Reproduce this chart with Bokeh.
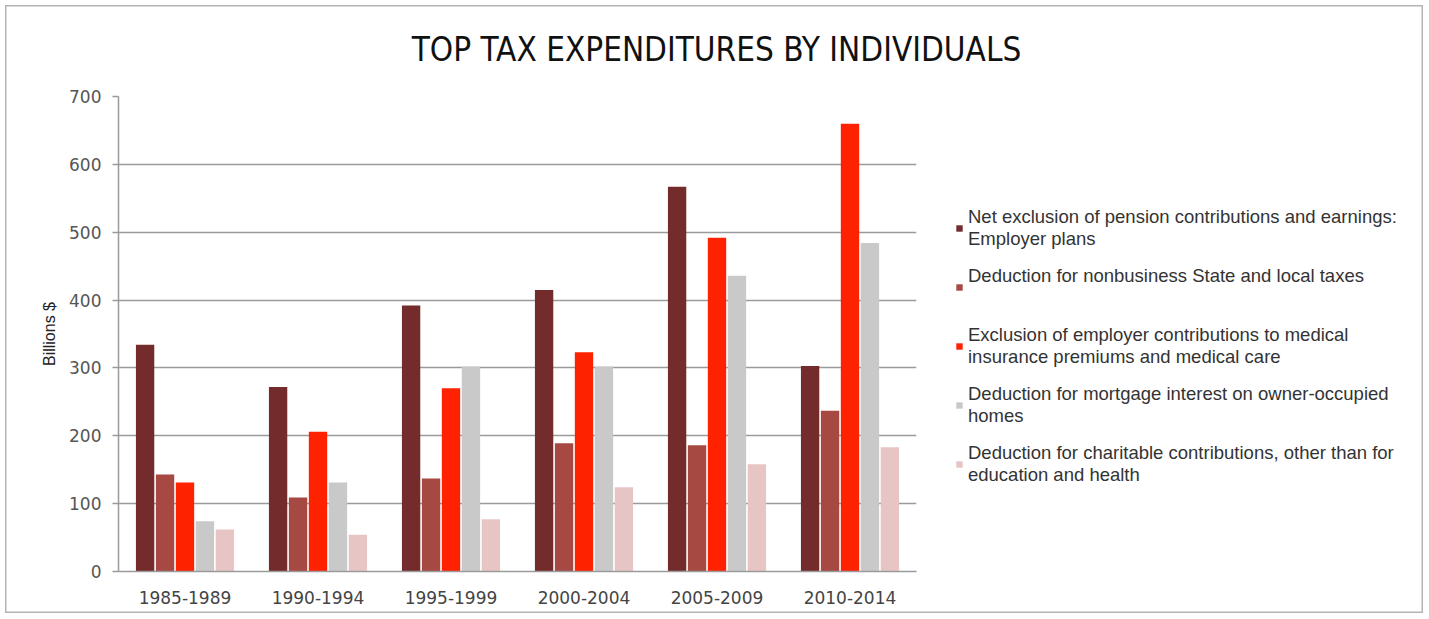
from bokeh.plotting import figure
from bokeh.models import ColumnDataSource, FactorRange, Range1d, Legend, LegendItem
from bokeh.layouts import column, row
from bokeh.core.properties import value
from bokeh.transform import dodge
from bokeh.embed import file_html
from bokeh.resources import INLINE

title_text = "TOP TAX EXPENDITURES BY INDIVIDUALS"
categories = ["1985-1989", "1990-1994", "1995-1999", "2000-2004", "2005-2009", "2010-2014"]
pension = [334, 272, 392, 415, 567, 303]
state_local = [143, 109, 137, 189, 186, 237]
medical = [131, 206, 270, 323, 492, 660]
mortgage = [74, 131, 302, 302, 436, 484]
charitable = [62, 54, 77, 124, 158, 183]

series_keys = ["pension", "state_local", "medical", "mortgage", "charitable"]
series_labels = [
    "Net exclusion of pension contributions and earnings:\nEmployer plans",
    "Deduction for nonbusiness State and local taxes\n ",
    "Exclusion of employer contributions to medical\ninsurance premiums and medical care",
    "Deduction for mortgage interest on owner-occupied\nhomes",
    "Deduction for charitable contributions, other than for\neducation and health",
]
colors = ["#732C2B", "#A64943", "#FF2200", "#C9C9C9", "#E8C5C5"]
offsets = [-0.3, -0.15, 0.0, 0.15, 0.3]

source = ColumnDataSource(data=dict(
    cat=categories, pension=pension, state_local=state_local,
    medical=medical, mortgage=mortgage, charitable=charitable))

W, H = 1428, 618
TITLE_H = 84
MAIN_W = 940
BODY_H = H - TITLE_H


def bare(fig):
    fig.axis.visible = False
    fig.grid.visible = False
    fig.outline_line_color = None
    fig.background_fill_alpha = 0
    fig.border_fill_alpha = 0


# ---- title strip ----
tf = figure(width=W, height=TITLE_H, x_range=Range1d(0, W), y_range=Range1d(0, TITLE_H),
            output_backend="svg", toolbar_location=None,
            min_border_left=0, min_border_right=0, min_border_top=0, min_border_bottom=0)
bare(tf)
tf.text(x=[716], y=[TITLE_H - 48.5], text=[title_text], text_align="center", text_baseline="middle",
        text_font=value("Arial Narrow, Liberation Sans Narrow, DejaVu Sans Condensed, Roboto Condensed, Roboto"),
        text_font_size="33px", text_color="#111111")

# ---- main chart ----
p = figure(
    x_range=FactorRange(*categories, range_padding=0),
    y_range=Range1d(0, 700),
    width=MAIN_W, height=BODY_H,
    output_backend="svg", toolbar_location=None,
    min_border_left=118, min_border_right=MAIN_W - 916, min_border_top=96 - TITLE_H,
    min_border_bottom=BODY_H - (571 - TITLE_H),
)
p.outline_line_color = None
p.background_fill_color = "white"
p.border_fill_alpha = 0

for key, col, off in zip(series_keys, colors, offsets):
    p.vbar(x=dodge("cat", off, range=p.x_range), top=key, width=0.138,
           source=source, fill_color=col, line_color=None)

p.yaxis.ticker = [0, 100, 200, 300, 400, 500, 600, 700]
p.yaxis.axis_label = "Billions $"
p.yaxis.axis_label_text_font = "Liberation Sans"
p.yaxis.axis_label_text_font_size = "16px"
p.yaxis.axis_label_text_font_style = "normal"
p.yaxis.axis_label_text_color = "#222222"
p.yaxis.axis_label_standoff = 8
p.yaxis.major_label_text_font = "DejaVu Sans"
p.yaxis.major_label_text_font_size = "17px"
p.yaxis.major_label_text_color = "#555555"
p.yaxis.major_tick_out = 6
p.yaxis.major_tick_in = 0
p.yaxis.minor_tick_out = 0
p.yaxis.minor_tick_in = 0
p.yaxis.major_label_standoff = 11
p.yaxis.axis_line_color = "#9a9a9a"
p.yaxis.axis_line_width = 1.5
p.yaxis.major_tick_line_color = "#9a9a9a"
p.yaxis.major_tick_line_width = 1.5

p.xaxis.major_label_text_font = "DejaVu Sans"
p.xaxis.major_label_text_font_size = "17px"
p.xaxis.major_label_text_color = "#444444"
p.xaxis.major_tick_line_color = None
p.xaxis.major_label_standoff = 13
p.xaxis.axis_line_color = "#9a9a9a"
p.xaxis.axis_line_width = 1.5

p.xgrid.grid_line_color = None
p.ygrid.grid_line_color = "#9a9a9a"
p.ygrid.grid_line_width = 1.5

# ---- legend panel ----
lf = figure(width=W - MAIN_W, height=BODY_H,
            x_range=FactorRange(*categories), y_range=Range1d(0, 700),
            output_backend="svg", toolbar_location=None,
            min_border_left=0, min_border_right=0, min_border_top=0, min_border_bottom=0)
bare(lf)
leg_renderers = []
for key, col in zip(series_keys, colors):
    r = lf.vbar(x="cat", top=key, width=0.5, source=source, fill_color=col, line_color=None)
    r.visible = False
    leg_renderers.append(r)

items = [LegendItem(label=lab, renderers=[r]) for lab, r in zip(series_labels, leg_renderers)]
legend = Legend(items=items, location="top_left", orientation="vertical",
                title=" ", title_text_font_size="10px", title_standoff=84,
                glyph_width=8, glyph_height=8, label_standoff=5,
                spacing=15, padding=0, margin=15,
                label_text_font="Liberation Sans", label_text_font_size="18.5px",
                label_text_color="#333333", label_text_line_height=1.33,
                background_fill_alpha=0, border_line_color=None)
lf.add_layout(legend, "center")

layout = column(tf, row(p, lf, spacing=0), spacing=0)
layout.styles = {"box-shadow": "inset 0 0 0 5px white, inset 0 0 0 6.5px #b4b4b4",
                 "background": "white"}

open("out.html", "w").write(file_html(layout, INLINE))
